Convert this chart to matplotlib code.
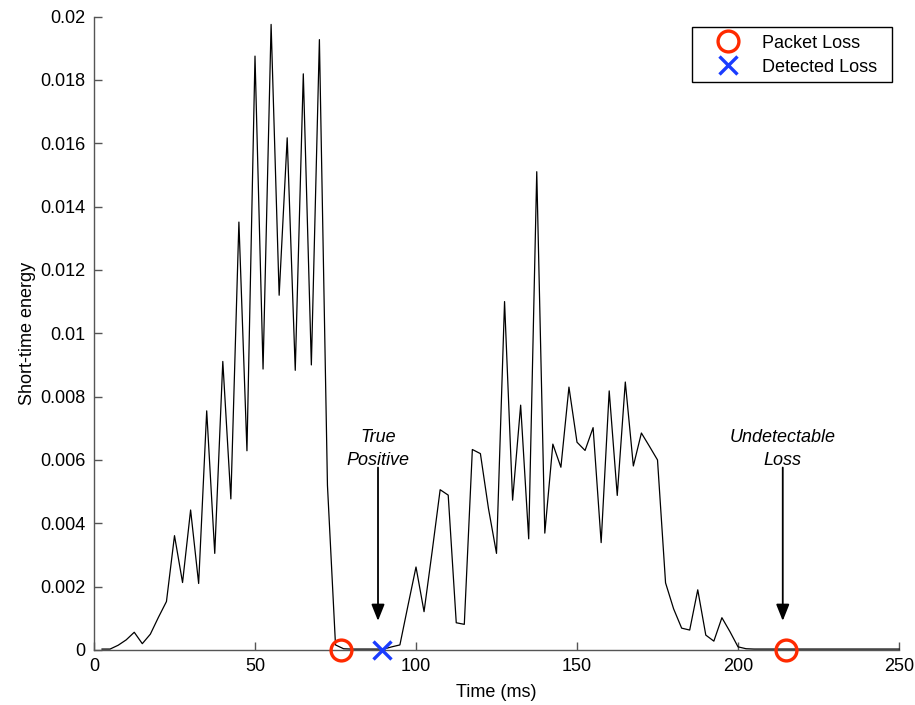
import numpy as np
import matplotlib
matplotlib.use("Agg")
import matplotlib.pyplot as plt
from matplotlib.ticker import FuncFormatter
from matplotlib.patches import Rectangle

plt.rcParams['font.family'] = ['Liberation Sans', 'DejaVu Sans']

# frame times (ms) and short-time energy values
time_ms = np.arange(2.5, 250.01, 2.5)
energy = [
    0.00003, 0.00003, 0.00015, 0.00032, 0.00056, 0.00020, 0.00050, 0.00103,
    0.00153, 0.00361, 0.00213, 0.00442, 0.00210, 0.00755, 0.00305, 0.00911,
    0.00477, 0.01351, 0.00629, 0.01875, 0.00887, 0.01975, 0.01120, 0.01617,
    0.00883, 0.01819, 0.00900, 0.01927, 0.00520, 0.00016, 0.00004, 0.00003,
    0.00003, 0.00003, 0.00003, 0.00003, 0.00010, 0.00016, 0.00140, 0.00262,
    0.00121, 0.00310, 0.00506, 0.00489, 0.00086, 0.00081, 0.00633, 0.00620,
    0.00447, 0.00305, 0.01100, 0.00473, 0.00773, 0.00351, 0.01510, 0.00369,
    0.00650, 0.00577, 0.00830, 0.00656, 0.00630, 0.00702, 0.00339, 0.00818,
    0.00488, 0.00846, 0.00581, 0.00685, 0.00643, 0.00600, 0.00212, 0.00130,
    0.00069, 0.00063, 0.00190, 0.00047, 0.00028, 0.00102, 0.00058, 0.00010,
    0.00004, 0.00003, 0.00003, 0.00003, 0.00003, 0.00003, 0.00003, 0.00003,
    0.00003, 0.00003, 0.00003, 0.00003, 0.00003, 0.00003, 0.00003, 0.00003,
    0.00003, 0.00003, 0.00003, 0.00003,
]

packet_loss_t = [76.7, 214.8]
packet_loss_y = [0.0, 0.0]
detected_loss_t = [89.3]
detected_loss_y = [0.0]

annot_labels = ["True\nPositive", "Undetectable\nLoss"]
annot_x = [88.2, 213.9]

xticks = [0, 50, 100, 150, 200, 250]
yticks = [0, 0.002, 0.004, 0.006, 0.008, 0.01, 0.012, 0.014, 0.016, 0.018, 0.02]

RED = '#FF2A00'
BLUE = '#1A3CFF'
AX_COL = '#555555'

W, H = 915, 705
fig = plt.figure(figsize=(W/100, H/100), dpi=100)
ax = fig.add_axes([94/W, 1-650/H, (899-94)/W, (650-16.5)/H])

ax.plot(time_ms[:len(energy)], energy, color='black', lw=0.9, clip_on=False, zorder=3)

ax.plot(packet_loss_t, packet_loss_y, linestyle='none', marker='o', ms=15,
        mfc='none', mec=RED, mew=2.4, clip_on=False, zorder=4, label='Packet Loss')
ax.plot(detected_loss_t, detected_loss_y, linestyle='none', marker='x', ms=12.5,
        mec=BLUE, mew=2.4, clip_on=False, zorder=4, label='Detected Loss')

for lab, xa in zip(annot_labels, annot_x):
    ax.text(xa, 0.00635, lab, ha='center', va='center', style='italic',
            fontsize=13, linespacing=1.45)
    ax.annotate('', xy=(xa, 0.00092), xytext=(xa, 0.00576),
                arrowprops=dict(arrowstyle='-|>,head_length=1.0,head_width=0.4',
                                color='black', lw=1.3, shrinkA=0, shrinkB=0))

ax.set_xlim(0, 250)
ax.set_ylim(0, 0.02)
ax.set_xticks(xticks)
ax.set_yticks(yticks)
ax.yaxis.set_major_formatter(FuncFormatter(lambda v, p: '%g' % v))
ax.tick_params(direction='in', length=6, width=1, color=AX_COL, labelsize=13,
               labelcolor='black', pad=6)
for s in ['top', 'right']:
    ax.spines[s].set_visible(False)
for s in ['left', 'bottom']:
    ax.spines[s].set_color(AX_COL)
    ax.spines[s].set_linewidth(1.0)

ax.set_xlabel('Time (ms)', fontsize=13, labelpad=6)
ax.set_ylabel('Short-time energy', fontsize=13, labelpad=3)

# legend frame drawn separately so its extent matches the reference
box = Rectangle((692/W, 1-81.7/H), (891.7-692)/W, (81.7-27.3)/H,
                transform=fig.transFigure, facecolor='white', edgecolor='black',
                lw=1.0, zorder=4.5, clip_on=False)
ax.add_patch(box)
leg = ax.legend(loc='upper left', bbox_to_anchor=(692/W, 1-27.5/H),
                bbox_transform=fig.transFigure, borderaxespad=0, fontsize=13,
                frameon=False, borderpad=0.4, handlelength=3.2, handletextpad=0.3,
                labelspacing=0.38, numpoints=1)
leg.set_zorder(6)

fig.savefig('out.png', dpi=100)
